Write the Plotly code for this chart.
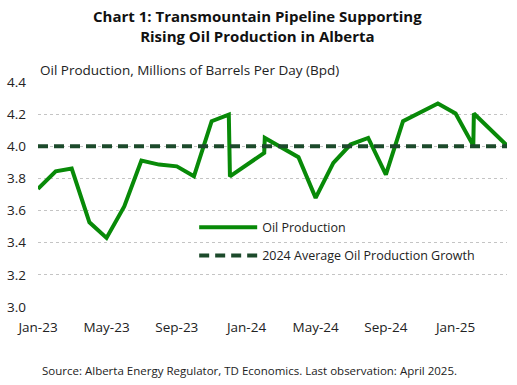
import plotly.graph_objects as go

dates = ["2023-01-01", "2023-02-01", "2023-03-01", "2023-04-01", "2023-05-01", "2023-06-01",
         "2023-07-01", "2023-08-01", "2023-09-01", "2023-10-01", "2023-11-01", "2023-12-01",
         "2023-12-03", "2024-02-01", "2024-02-02", "2024-04-01", "2024-05-01", "2024-06-01",
         "2024-07-01", "2024-08-01", "2024-09-01", "2024-10-01", "2024-12-01", "2025-01-01",
         "2025-02-01", "2025-02-02", "2025-04-01"]
oil_production = [3.735, 3.844, 3.861, 3.527, 3.430, 3.626,
                  3.911, 3.886, 3.875, 3.813, 4.156, 4.197,
                  3.813, 3.959, 4.052, 3.932, 3.679, 3.897,
                  4.011, 4.052, 3.824, 4.156, 4.266, 4.204,
                  4.004, 4.204, 4.004]
avg_dates = ["2023-01-01", "2025-04-01"]
avg_2024 = [4.0, 4.0]
x_ticks = ["2023-01-01", "2023-05-01", "2023-09-01", "2024-01-01",
           "2024-05-01", "2024-09-01", "2025-01-01"]

FONT = "Open Sans, sans-serif"
TXT = "#222222"

fig = go.Figure()
fig.add_trace(go.Scatter(x=dates, y=oil_production, mode="lines", name="Oil Production",
                         legendgroup="a",
                         line=dict(color="#088A08", width=4)))
fig.add_trace(go.Scatter(x=avg_dates, y=avg_2024, mode="lines",
                         name="2024 Average Oil Production Growth", legendgroup="b",
                         line=dict(color="#1C4A2B", width=4, dash="10px,6px")))

fig.update_layout(
    width=517, height=385,
    margin=dict(l=38, r=10, t=82, b=78),
    paper_bgcolor="white", plot_bgcolor="white",
    font=dict(family=FONT, size=12, color=TXT),
    showlegend=True,
    legend=dict(x=0.333, y=0.291, xanchor="left", yanchor="middle",
                bgcolor="rgba(0,0,0,0)", font=dict(size=12.5, color=TXT),
                tracegroupgap=9, itemwidth=58, traceorder="grouped"),
    xaxis=dict(type="date", range=["2023-01-01", "2025-04-01"],
               tickvals=x_ticks, automargin=False,
               tickformat="%b-%y", showgrid=False, showline=False, ticks="",
               ticklabelstandoff=10,
               zeroline=False, tickfont=dict(size=13.5, color=TXT)),
    yaxis=dict(range=[3.0, 4.4], dtick=0.2, tickformat=".1f", showgrid=True,
               automargin=False, ticklabelstandoff=11,
               gridcolor="#c4c4c4", griddash="dot", gridwidth=1, zeroline=False,
               showline=False, ticks="", tickfont=dict(size=13.5, color=TXT)),
)

fig.add_annotation(text="<b>Chart 1: Transmountain Pipeline Supporting<br>Rising Oil Production in Alberta</b>",
                   xref="paper", yref="paper", x=0.469, y=1.0, xanchor="center", yanchor="top",
                   yshift=78, showarrow=False, align="center",
                   font=dict(size=15, color="#111111"))
fig.add_annotation(text="Oil Production, Millions of Barrels Per Day (Bpd)",
                   xref="paper", yref="paper", x=0.0, y=1.0, xanchor="left", yanchor="bottom",
                   yshift=1, showarrow=False, font=dict(size=13.5, color=TXT))
fig.add_annotation(text="Source: Alberta Energy Regulator, TD Economics. Last observation: April 2025.",
                   xref="paper", yref="paper", x=0.452, y=0, yshift=-63, xanchor="center",
                   yanchor="middle", showarrow=False, font=dict(size=11.5, color=TXT))

fig.write_html("out.html", config={"displayModeBar": False})

with open("out.html", "r", encoding="utf-8") as f:
    html = f.read()
html = html.replace("<body>", '<body style="margin:0;padding:0;">', 1)
with open("out.html", "w", encoding="utf-8") as f:
    f.write(html)
